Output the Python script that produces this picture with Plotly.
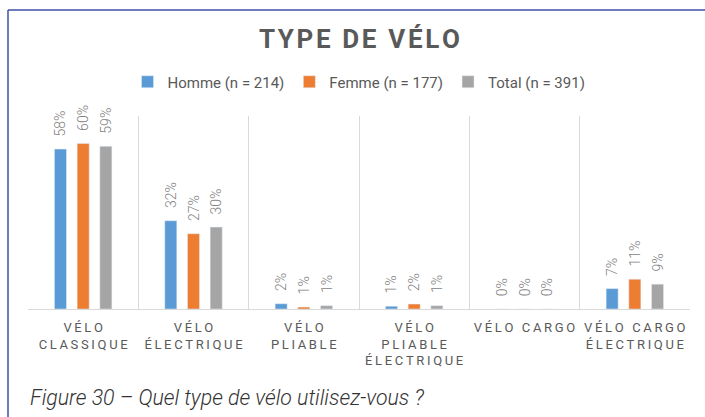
import plotly.graph_objects as go

categories = ["VÉLO<br>CLASSIQUE", "VÉLO<br>ÉLECTRIQUE", "VÉLO<br>PLIABLE",
              "VÉLO<br>PLIABLE<br>ÉLECTRIQUE", "VÉLO CARGO", "VÉLO CARGO<br>ÉLECTRIQUE"]
series_names = ["Homme (n = 214)", "Femme (n = 177)", "Total (n = 391)"]
homme = [58, 32, 1.9, 1.0, 0, 7.4]
femme = [60, 27.3, 0.7, 1.8, 0, 10.8]
total = [59, 29.7, 1.2, 1.2, 0, 9.0]
colors = ["#5B9BD5", "#ED7D31", "#A5A5A5"]

HS = "\u200a"
NBSP = "\u00a0"


def spaced(s, sep):
    lines = s.split("<br>")
    out = []
    for ln in lines:
        words = ln.split(" ")
        out.append((sep + NBSP + sep).join(sep.join(list(w)) for w in words))
    return "<br>".join(out)


cat_labels = [spaced(c, HS * 2) for c in categories]

fig = go.Figure()
for name, vals, col in zip(series_names, [homme, femme, total], colors):
    fig.add_trace(go.Bar(
        x=cat_labels, y=vals, name=name, marker_color=col,
        texttemplate=NBSP + NBSP + "\u2009%{y:.0f}%", textposition="outside", textangle=-90,
        textfont=dict(family="Roboto", size=14, color="#7F7F7F", weight=300),
        constraintext="none", cliponaxis=False,
    ))

fig.update_layout(
    width=705, height=417,
    margin=dict(l=28, r=15, t=116, b=108),
    paper_bgcolor="white", plot_bgcolor="white",
    barmode="group", bargap=0.383, bargroupgap=0.47,
    font=dict(family="Roboto", color="#595959"),
    showlegend=True,
    legend=dict(orientation="h", x=0.5, xanchor="center", y=(309 - 82) / 193, yanchor="middle",
                font=dict(family="Roboto", size=15, color="#595959"),
                itemwidth=30, traceorder="normal"),
    xaxis=dict(
        type="category", categoryorder="array", categoryarray=cat_labels,
        tickson="boundaries", ticks="",
        showgrid=True, gridcolor="#D9D9D9", gridwidth=1,
        showline=True, linecolor="#D9D9D9", linewidth=1,
        tickfont=dict(family="Roboto", size=13, color="#595959"),
        tickangle=0, automargin=False, zeroline=False, ticklabelstandoff=6,
    ),
    yaxis=dict(range=[0, 70], visible=False, showgrid=False, zeroline=False),
    annotations=[
        dict(text=HS.join(list("TYPE DE VÉLO")), xref="paper", yref="paper",
             x=0.5, y=(309 - 39) / 193, xanchor="center", yanchor="middle",
             showarrow=False,
             font=dict(family="Roboto", size=26, color="#595959", weight="bold")),
        dict(text="<i>Figure 30 – Quel type de vélo utilisez-vous ?</i>",
             xref="paper", yref="paper", x=0, y=(309 - 397) / 193,
             xanchor="left", yanchor="middle", showarrow=False,
             font=dict(family="Roboto", size=21.3, color="#333333", weight=300)),
    ],
    shapes=[
        dict(type="line", xref="paper", yref="paper",
             x0=(8 - 28) / 662, x1=(706 - 28) / 662,
             y0=(309 - 10) / 193, y1=(309 - 10) / 193,
             line=dict(color="#3F51A5", width=1.5)),
        dict(type="line", xref="paper", yref="paper",
             x0=(8 - 28) / 662, x1=(8 - 28) / 662,
             y0=(309 - 10) / 193, y1=(309 - 418) / 193,
             line=dict(color="#3F51A5", width=1.5)),
    ],
)

fig.write_html("out.html", config={"displayModeBar": False},
               post_script="document.body.style.margin='0';")
